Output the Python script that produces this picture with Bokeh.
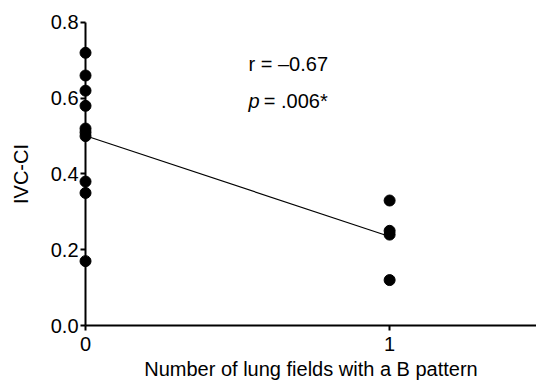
import numpy as np
from bokeh.plotting import figure
from bokeh.models import FixedTicker, PrintfTickFormatter, Label, Range1d
from bokeh.embed import file_html
from bokeh.resources import INLINE

# Data
x_group0 = [0, 0, 0, 0, 0, 0, 0, 0, 0, 0]
y_group0 = [0.72, 0.66, 0.62, 0.58, 0.52, 0.51, 0.50, 0.38, 0.35, 0.17]
x_group1 = [1, 1, 1, 1]
y_group1 = [0.33, 0.25, 0.24, 0.12]
y_ticks = [0.0, 0.2, 0.4, 0.6, 0.8]
x_ticks = [0, 1]
r_text = "r = \u20130.67"
p_text = "= .006*"

xs = np.array(x_group0 + x_group1, dtype=float)
ys = np.array(y_group0 + y_group1, dtype=float)
slope, intercept = np.polyfit(xs, ys, 1)
fit_x = [0.0, 1.0]
fit_y = [intercept + slope * v for v in fit_x]

FONT = "Liberation Sans"

p = figure(width=536, height=382, output_backend="svg", toolbar_location=None,
           x_range=Range1d(-0.2796, 1.483), y_range=Range1d(-0.1504, 0.858),
           min_border_left=0, min_border_right=0, min_border_top=0, min_border_bottom=0)
p.outline_line_color = None
p.grid.visible = False
p.background_fill_color = "white"
p.border_fill_color = "white"

p.line(fit_x, fit_y, line_color="black", line_width=1.2)
p.scatter(xs, ys, size=11, color="black")

for ax in (p.xaxis[0], p.yaxis[0]):
    ax.axis_line_width = 2
    ax.major_tick_line_width = 2
    ax.major_tick_out = 5
    ax.major_tick_in = 0
    ax.minor_tick_line_color = None
    ax.major_label_text_font = FONT
    ax.major_label_text_font_size = "20px"
    ax.major_label_text_color = "black"
    ax.axis_label_text_font = FONT
    ax.axis_label_text_font_size = "20px"
    ax.axis_label_text_font_style = "normal"
    ax.axis_label_text_color = "black"

p.yaxis.fixed_location = 0
p.yaxis.bounds = (0, 0.8)
p.yaxis.ticker = FixedTicker(ticks=y_ticks)
p.yaxis.formatter = PrintfTickFormatter(format="%.1f")
p.yaxis.axis_label = "IVC-CI"
p.yaxis.major_label_standoff = 2
p.yaxis.axis_label_standoff = 16

p.xaxis.fixed_location = 0
p.xaxis.bounds = (0, 1.5)
p.xaxis.ticker = FixedTicker(ticks=x_ticks)
p.xaxis.axis_label = "Number of lung fields with a B pattern"
p.xaxis.major_label_standoff = 6
p.xaxis.axis_label_standoff = 4

p.add_layout(Label(x=0.536, y=0.691, text=r_text, text_baseline="middle",
                   text_font=FONT, text_font_size="20px", text_color="black"))
p.add_layout(Label(x=0.536, y=0.594, text="p", text_baseline="middle",
                   text_font=FONT, text_font_size="20px", text_font_style="italic",
                   text_color="black"))
p.add_layout(Label(x=0.586, y=0.594, text=p_text, text_baseline="middle",
                   text_font=FONT, text_font_size="20px", text_color="black"))

open("out.html", "w").write(file_html(p, INLINE))
